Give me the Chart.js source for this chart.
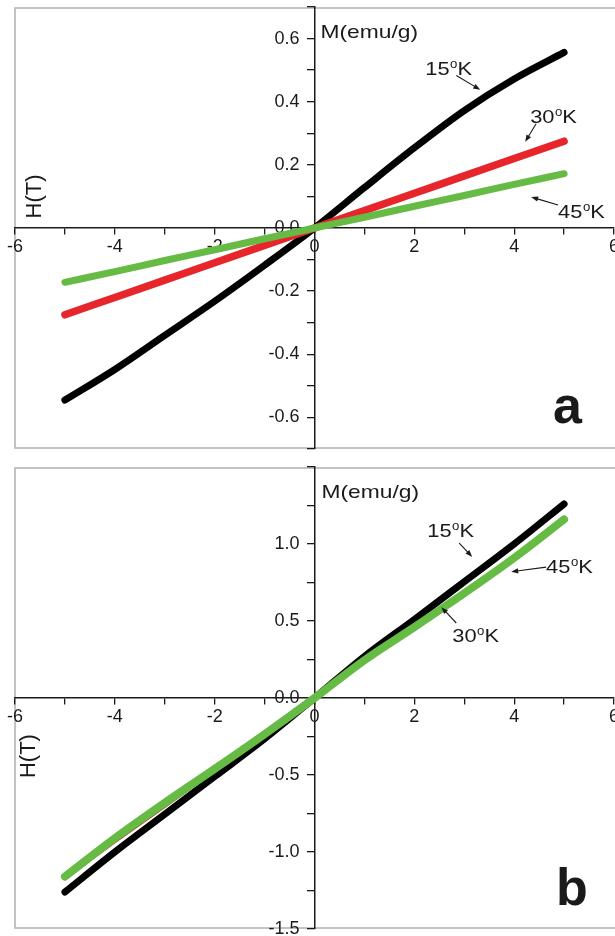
<!DOCTYPE html>
<html>
<head>
<meta charset="utf-8">
<script src="https://cdn.jsdelivr.net/npm/chart.js@4.4.1/dist/chart.umd.min.js"></script>
<style>
  body { margin: 0; background: #fff; }
  .panel { position: absolute; left: 0; width: 615px; }
  #panelA { top: 0; height: 456px; }
  #panelB { top: 460px; height: 476px; }
</style>
</head>
<body>
<div class="panel" id="panelA"><canvas id="chartA"></canvas></div>
<div class="panel" id="panelB"><canvas id="chartB"></canvas></div>
<script>
// field values H(T), shared by every curve
const fieldH = [-5, -4, -3, -2, -1, 0, 1, 2, 3, 4, 5];

// panel a: M(emu/g)
const magA15K = [-0.545, -0.448, -0.34, -0.232, -0.118, 0, 0.128, 0.254, 0.372, 0.472, 0.556];
const magA30K = [-0.275, -0.22, -0.165, -0.11, -0.055, 0, 0.055, 0.11, 0.165, 0.22, 0.275];
const magA45K = [-0.172, -0.138, -0.103, -0.069, -0.034, 0, 0.034, 0.069, 0.103, 0.138, 0.172];

// panel b: M(emu/g)
const magB15K = [-1.26, -1.0, -0.755, -0.51, -0.265, 0, 0.27, 0.51, 0.755, 1.0, 1.26];
const magB30K = [-1.17, -0.93, -0.7, -0.47, -0.245, 0, 0.25, 0.47, 0.69, 0.92, 1.17];
const magB45K = [-1.16, -0.91, -0.68, -0.46, -0.235, 0, 0.245, 0.46, 0.68, 0.91, 1.16];

const tempNames = ["15", "30", "45"];

const FONT = "'Liberation Sans', Arial, sans-serif";
const INK = "#1a1a1a";

function pts(ys) {
    return fieldH.map((x, i) => ({ x: x, y: ys[i] }));
}

function curve(label, ys, color, width, order) {
    return {
        label: label,
        data: pts(ys),
        borderColor: color,
        borderWidth: width,
        borderCapStyle: "round",
        borderJoinStyle: "round",
        pointRadius: 0,
        cubicInterpolationMode: "monotone",
        order: order,
    };
}

function stretchText(ctx, text, x, y, sx) {
    ctx.save();
    ctx.translate(x, y);
    ctx.scale(sx, 1);
    ctx.fillText(text, 0, 0);
    const w = ctx.measureText(text).width * sx;
    ctx.restore();
    return w;
}

function tempLabel(ctx, num, x, y) {
    ctx.font = "19px " + FONT;
    let w = stretchText(ctx, num, x, y, 1.15);
    ctx.font = "12px " + FONT;
    let w2 = stretchText(ctx, "o", x + w + 0.5, y - 7, 1.1);
    ctx.font = "19px " + FONT;
    stretchText(ctx, "K", x + w + w2 + 0.5, y, 1.15);
}

function arrow(ctx, x1, y1, x2, y2) {
    const a = Math.atan2(y2 - y1, x2 - x1);
    const len = 7, half = 2.6;
    ctx.strokeStyle = INK;
    ctx.lineWidth = 1.1;
    ctx.beginPath();
    ctx.moveTo(x1, y1);
    ctx.lineTo(x2 - Math.cos(a) * len * 0.8, y2 - Math.sin(a) * len * 0.8);
    ctx.stroke();
    ctx.beginPath();
    ctx.moveTo(x2, y2);
    ctx.lineTo(x2 - Math.cos(a) * len - Math.sin(a) * half, y2 - Math.sin(a) * len + Math.cos(a) * half);
    ctx.lineTo(x2 - Math.cos(a) * len + Math.sin(a) * half, y2 - Math.sin(a) * len - Math.cos(a) * half);
    ctx.closePath();
    ctx.fill();
}

// grey frame behind everything
const framePlugin = {
    id: "frame",
    beforeDraw(chart) {
        const { ctx, chartArea } = chart;
        ctx.save();
        ctx.strokeStyle = "#b0b0b0";
        ctx.lineWidth = 1.5;
        ctx.strokeRect(chartArea.left, chartArea.top + 1, chartArea.right - chartArea.left + 10, chartArea.bottom - chartArea.top - 2);
        ctx.restore();
    },
};

// titles, temperature labels with arrows, panel letter
const notesPlugin = {
    id: "notes",
    afterDraw(chart, args, opts) {
        const { ctx } = chart;
        const sx = chart.scales.x, sy = chart.scales.y;
        const px = (v) => sx.getPixelForValue(v);
        const py = (v) => sy.getPixelForValue(v);
        ctx.save();
        ctx.fillStyle = INK;
        ctx.textBaseline = "alphabetic";
        ctx.textAlign = "left";

        ctx.font = "19px " + FONT;
        stretchText(ctx, "M(emu/g)", px(opts.axisTitle[0]), py(opts.axisTitle[1]), 1.2);

        ctx.save();
        ctx.translate(px(opts.fieldTitle[0]), py(opts.fieldTitle[1]));
        ctx.rotate(-Math.PI / 2);
        ctx.font = "22px " + FONT;
        ctx.textAlign = "center";
        ctx.textBaseline = "middle";
        ctx.fillText("H(T)", 0, 0);
        ctx.restore();

        opts.temps.forEach((t, i) => {
            tempLabel(ctx, tempNames[i], px(t.at[0]), py(t.at[1]));
            arrow(ctx, px(t.from[0]), py(t.from[1]), px(t.to[0]), py(t.to[1]));
        });

        ctx.font = "bold 52px " + FONT;
        ctx.fillText(opts.letter, px(opts.letterAt[0]), py(opts.letterAt[1]));
        ctx.restore();
    },
};

function buildChart(id, sets, yMax, yStep, yMajor, notes) {
    const tickFont = { family: FONT, size: 18 };
    new Chart(document.getElementById(id), {
        type: "line",
        data: { datasets: sets },
        options: {
            responsive: true,
            maintainAspectRatio: false,
            animation: false,
            layout: { padding: { left: 15, right: 1, top: 7, bottom: 7 } },
            plugins: {
                legend: { display: false },
                tooltip: { enabled: false },
                notes: notes,
            },
            scales: {
                x: {
                    type: "linear",
                    min: -6,
                    max: 6,
                    position: { y: 0 },
                    afterFit(s) { s.paddingLeft = 0; s.paddingRight = 0; s.paddingTop = 0; s.paddingBottom = 0; },
                    ticks: {
                        stepSize: 1,
                        autoSkip: false,
                        maxRotation: 0,
                        padding: 2,
                        color: INK,
                        font: tickFont,
                        callback: (v) => (Math.round(v) % 2 === 0 ? String(Math.round(v)) : ""),
                    },
                    grid: { drawOnChartArea: false, drawTicks: true, tickLength: 6, color: INK, lineWidth: 1.3 },
                    border: { display: true, color: INK, width: 1.5 },
                },
                y: {
                    type: "linear",
                    min: -yMax,
                    max: yMax,
                    position: { x: 0 },
                    afterFit(s) { s.paddingLeft = 0; s.paddingRight = 0; s.paddingTop = 0; s.paddingBottom = 0; },
                    ticks: {
                        stepSize: yStep,
                        autoSkip: false,
                        color: INK,
                        font: tickFont,
                        // labels of a centred axis sit against the line, so pad them with spaces
                        callback: (v) => {
                            const k = Math.round(v / yMajor);
                            if (Math.abs(v - k * yMajor) > 1e-6) return "";
                            if (v > yMax - 1e-6) return "";
                            return (k * yMajor).toFixed(1) + "   ";
                        },
                    },
                    grid: { drawOnChartArea: false, drawTicks: true, tickLength: 7, color: INK, lineWidth: 1.3 },
                    border: { display: true, color: INK, width: 1.5 },
                },
            },
        },
        plugins: [framePlugin, notesPlugin],
    });
}

buildChart("chartA", [
    curve("15°K", magA15K, "#000000", 7, 2),
    curve("30°K", magA30K, "#e6262b", 7.5, 1),
    curve("45°K", magA45K, "#66bb45", 7, 0),
], 0.7, 0.1, 0.2, {
    axisTitle: [0.12, 0.603],
    fieldTitle: [-5.6, 0.1],
    letter: "a",
    letterAt: [4.78, -0.619],
    temps: [
        { at: [2.22, 0.486], from: [2.84, 0.483], to: [3.32, 0.438] },
        { at: [4.32, 0.333], from: [4.44, 0.33], to: [4.22, 0.273] },
        { at: [4.88, 0.032], from: [4.88, 0.073], to: [4.34, 0.098] },
    ],
});

buildChart("chartB", [
    curve("15°K", magB15K, "#000000", 7, 2),
    curve("30°K", magB30K, "#b5452a", 4, 1),
    curve("45°K", magB45K, "#66bb45", 8, 0),
], 1.5, 0.25, 0.5, {
    axisTitle: [0.14, 1.3],
    fieldTitle: [-5.72, -0.377],
    letter: "b",
    letterAt: [4.84, -1.345],
    temps: [
        { at: [2.26, 1.045], from: [2.9, 1.006], to: [3.16, 0.916] },
        { at: [2.76, 0.364], from: [2.84, 0.487], to: [2.54, 0.59] },
        { at: [4.64, 0.81], from: [4.64, 0.85], to: [3.94, 0.82] },
    ],
});
</script>
</body>
</html>
